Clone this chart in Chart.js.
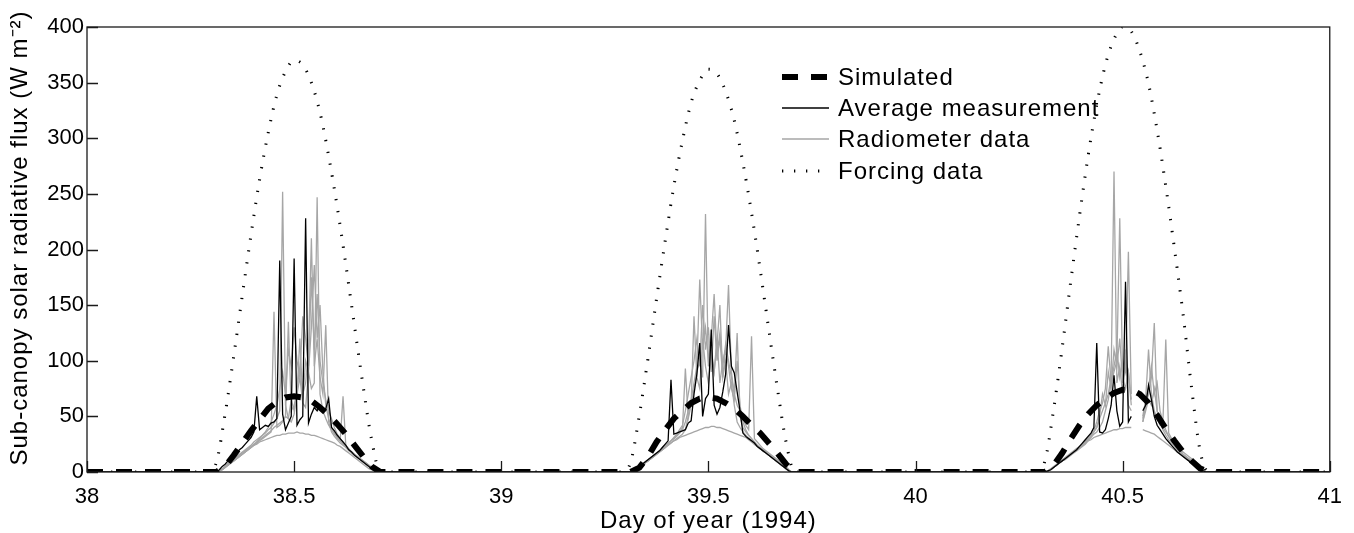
<!DOCTYPE html>
<html>
<head>
<meta charset="utf-8">
<script src="https://cdn.jsdelivr.net/npm/chart.js@4.4.0/dist/chart.umd.min.js"></script>
<style>
  html, body { margin: 0; padding: 0; background: #ffffff; }
  #wrap { width: 1354px; height: 533px; position: relative; }
</style>
</head>
<body>
<div id="wrap"><canvas id="c" width="1354" height="533"></canvas></div>
<script>
// ---------------- DATA ----------------
const days = [38, 39, 40];
const xTickValues = [38, 38.5, 39, 39.5, 40, 40.5, 41];
const yTickValues = [0, 50, 100, 150, 200, 250, 300, 350, 400];
const legendLabels = ['Simulated', 'Average measurement', 'Radiometer data', 'Forcing data'];
const xTitle = 'Day of year (1994)';
const yTitle = 'Sub-canopy solar radiative flux (W m\u207B\u00B2)';

// half-hourly samples 07:00 .. 17:00 (21 per day)
const simulated = [
  0,0,5,15,26,37,47,57,63,67,68,67,64,58,51,43,34,24,14,5,0,
  0,0,4,14,27,38,48,55,62,66,67,66,62,57,50,42,35,26,17,7,0,
  0,0,6,17,30,42,52,60,66,71,74,74,70,62,51,39,28,18,10,3,0
];
const forcing = [
  0,9,52,104,159,213,263,305,339,360,370,366,350,323,284,238,186,131,77,28,0,
  0,9,51,102,156,208,257,298,332,352,362,358,342,316,278,233,182,128,75,27,0,
  0,10,56,112,172,230,284,330,366,389,400,396,378,349,307,257,201,142,75,18,0
];

// 10-minute samples 07:30 .. 17:00 (58 per day)
const averageMeasurement = [
  0,2,5,7,10,12,15,17,20,22,25,28,31,36,68,38,40,42,41,44,45,48,190,52,38,44,50,192,42,47,50,228,44,52,58,55,60,54,57,66,40,37,33,30,27,24,20,18,15,13,11,9,7,5,3,1,0,0,
  0,1,3,5,7,9,11,13,15,17,19,22,25,28,83,34,35,36,37,38,44,46,70,88,116,50,66,70,128,60,52,58,72,88,132,95,89,72,55,35,32,30,28,26,23,21,19,17,15,13,11,9,7,5,3,1,0,0,
  0,1,2,4,6,8,10,12,14,16,18,20,23,26,29,32,35,40,116,36,35,38,48,60,87,55,41,45,171,45,50,null,null,null,55,60,78,65,50,42,38,34,30,27,24,21,18,16,14,12,10,8,6,4,2,1,0,0
];
const radiometer1 = [
  0,1,3,5,8,10,12,14,16,18,20,22,24,27,29,31,33,35,38,40,44,48,55,252,60,48,45,52,70,85,62,58,90,75,80,247,70,55,48,42,38,34,31,28,68,22,20,17,15,13,11,9,7,5,3,1,0,0,
  0,1,3,5,7,9,11,13,15,17,19,21,23,25,28,30,32,35,38,45,55,60,75,90,100,85,232,95,110,90,120,80,100,110,168,90,70,60,55,48,42,38,122,30,27,24,21,19,17,15,13,11,9,7,5,2,0,0,
  0,1,2,4,6,8,10,12,14,16,18,20,22,24,27,30,33,36,40,48,55,62,70,85,270,80,95,70,110,60,55,null,null,null,45,60,70,85,134,55,45,38,33,29,26,23,20,17,15,13,11,9,7,5,3,1,0,0
];
const radiometer2 = [
  0,1,2,4,6,8,10,12,14,16,18,20,22,24,26,28,30,32,34,36,144,40,42,45,50,48,65,55,75,95,70,80,110,210,95,120,85,70,132,45,36,32,29,26,24,22,19,17,15,13,11,9,7,5,3,1,0,0,
  0,1,2,4,6,8,10,12,14,16,18,20,22,24,26,28,30,32,34,38,50,65,80,95,173,110,130,100,120,160,105,125,95,115,100,85,70,125,50,40,36,33,30,27,24,22,20,18,16,14,12,10,8,6,3,1,0,0,
  0,1,2,4,6,8,10,11,13,15,17,19,21,23,25,28,31,34,36,40,45,55,65,80,90,100,228,85,75,90,65,null,null,null,50,65,110,70,55,48,42,45,119,35,30,26,23,20,18,16,14,12,10,8,6,3,0,0
];
const radiometer3 = [
  0,1,3,5,7,9,11,13,15,17,19,21,23,25,27,29,31,33,35,37,40,42,44,46,50,135,55,60,70,120,65,100,90,130,186,120,150,90,60,48,40,35,31,28,25,23,20,18,16,14,12,10,8,6,4,2,0,0,
  0,1,3,5,7,9,11,13,15,17,19,22,24,26,28,30,33,36,40,93,48,60,140,85,75,120,95,80,105,90,115,150,85,100,70,80,60,45,40,36,33,30,28,25,23,21,19,17,15,13,11,9,7,5,3,1,0,0,
  0,1,3,5,7,9,11,13,15,17,19,21,23,25,28,31,34,37,45,55,62,75,113,80,95,110,85,100,90,198,70,null,null,null,45,55,65,60,75,55,45,40,36,32,28,25,22,19,16,14,12,10,8,6,4,2,0,0
];
const radiometer4 = [
  0,1,2,4,6,8,10,12,14,16,18,20,22,24,25,27,28,29,30,31,32,33,33,34,34,35,35,35,36,35,35,34,34,33,33,32,31,30,29,28,27,26,24,23,21,19,17,15,13,11,9,7,5,3,2,1,0,0,
  0,1,2,4,6,8,10,12,14,16,18,20,22,24,26,28,29,31,32,33,34,35,36,37,38,39,40,40,41,41,40,40,39,38,37,36,35,34,33,32,31,29,27,25,23,21,19,17,15,13,11,9,7,5,3,1,0,0,
  0,1,2,4,6,8,10,12,14,16,18,20,22,24,26,28,29,31,32,33,34,35,36,37,38,38,39,39,40,40,40,null,null,null,38,37,36,35,34,32,30,28,26,24,22,20,18,16,14,12,10,8,6,4,2,1,0,0
];
const radiometer5 = [
  0,1,2,4,6,8,10,12,14,16,18,20,22,24,27,30,33,36,40,45,52,60,75,90,70,110,95,130,100,85,140,120,95,175,110,160,100,80,65,55,48,40,34,30,27,24,21,18,16,14,12,10,8,6,4,2,0,0,
  0,1,2,4,6,8,10,12,14,16,18,20,22,25,28,31,34,38,42,55,70,85,100,120,95,150,110,130,90,140,100,120,85,110,95,75,65,100,60,45,38,33,30,27,24,21,19,17,15,13,11,9,7,5,3,1,0,0,
  0,1,2,4,6,8,10,12,14,16,18,20,22,24,26,29,32,36,40,50,70,60,90,75,110,95,120,80,100,90,60,null,null,null,48,60,75,95,70,80,55,45,38,32,28,25,22,19,16,14,12,10,8,6,4,2,0,0
];

// ---------------- TIME AXES ----------------
const halfHourTimes = days.flatMap(d => Array.from({length: 21}, (_, k) => d + 7/24 + k/48));
const tenMinTimes = days.flatMap(d => Array.from({length: 58}, (_, i) => d + 7.5/24 + i/144));
function toPoints(values, times) {
  const pts = [{x: 38, y: 0}];
  values.forEach((v, i) => pts.push({x: times[i], y: v}));
  pts.push({x: 41, y: 0});
  return pts;
}

const GRAY = '#a6a6a6';
const AXIS = '#1a1a1a';
const FONT = '"Liberation Sans", Arial, Helvetica, sans-serif';

const radiometers = [radiometer1, radiometer2, radiometer3, radiometer4, radiometer5];
const datasets = [
  { label: legendLabels[0], data: toPoints(simulated, halfHourTimes), borderColor: '#000', borderWidth: 6, borderDash: [16, 13], borderCapStyle: 'butt', order: 0 },
  { label: legendLabels[3], data: toPoints(forcing, halfHourTimes), borderColor: '#000', borderWidth: 3, borderDash: [1.3, 10.7], tension: 0.35, cubicInterpolationMode: 'monotone', order: 1 },
  { label: legendLabels[1], data: toPoints(averageMeasurement, tenMinTimes), borderColor: '#000', borderWidth: 1.3, order: 2 }
];
radiometers.forEach((r, k) => datasets.push({ label: legendLabels[2] + ' ' + (k + 1), data: toPoints(r, tenMinTimes), borderColor: GRAY, borderWidth: 1.3, order: 3 }));
datasets.forEach(d => { d.pointRadius = 0; d.fill = false; d.spanGaps = false; if (d.tension === undefined) d.tension = 0; });

// ---------------- PLUGIN: frame, inward ticks, titles, legend ----------------
const framePlugin = {
  id: 'frame',
  afterDatasetsDraw(chart) {
    const ctx = chart.ctx;
    const a = chart.chartArea;
    const xs = chart.scales.x, ys = chart.scales.y;
    ctx.save();
    ctx.strokeStyle = AXIS;
    ctx.lineWidth = 1.3;
    ctx.strokeRect(a.left, a.top, a.right - a.left, a.bottom - a.top);
    const TL = 11;
    ctx.beginPath();
    xTickValues.forEach(v => {
      const px = Math.round(xs.getPixelForValue(v)) + 0.5;
      ctx.moveTo(px, a.bottom); ctx.lineTo(px, a.bottom - TL);
    });
    yTickValues.forEach(v => {
      const py = Math.round(ys.getPixelForValue(v)) + 0.5;
      ctx.moveTo(a.left, py); ctx.lineTo(a.left + TL, py);
    });
    ctx.stroke();

    ctx.font = '24px ' + FONT;
    ctx.fillStyle = '#000';
    try { ctx.letterSpacing = '1px'; } catch (e) {}

    // axis titles
    ctx.textAlign = 'center';
    ctx.textBaseline = 'middle';
    ctx.fillText(xTitle, (a.left + a.right) / 2, 521);
    ctx.save();
    ctx.translate(20, 238);
    ctx.rotate(-Math.PI / 2);
    ctx.fillText(yTitle, 0, 0);
    ctx.restore();

    // legend
    const lx0 = 782, lx1 = 829, tx = 838;
    const rows = [77, 108, 139, 171];
    const styles = [datasets[0], datasets[2], datasets[3], datasets[1]];
    ctx.textAlign = 'left';
    rows.forEach((y, i) => {
      const ds = styles[i];
      ctx.save();
      ctx.strokeStyle = ds.borderColor;
      ctx.lineWidth = ds.borderWidth;
      ctx.lineCap = 'butt';
      ctx.setLineDash(ds.borderDash || []);
      ctx.beginPath();
      ctx.moveTo(lx0, y); ctx.lineTo(lx1, y);
      ctx.stroke();
      ctx.restore();
      ctx.fillText(legendLabels[i], tx, y + 1);
    });
    ctx.restore();
  }
};

new Chart(document.getElementById('c'), {
  type: 'line',
  data: { datasets },
  options: {
    responsive: false,
    devicePixelRatio: 1,
    animation: false,
    events: [],
    layout: { padding: { left: 0, right: 23, top: 27, bottom: 0 } },
    plugins: { legend: { display: false }, tooltip: { enabled: false } },
    scales: {
      x: {
        type: 'linear', min: 38, max: 41,
        afterBuildTicks: s => { s.ticks = xTickValues.map(v => ({value: v})); },
        afterFit: s => { s.height = 61; },
        grid: { display: false, drawTicks: false },
        border: { display: false },
        ticks: { color: '#000', font: { family: FONT, size: 22 }, padding: 12, maxRotation: 0, autoSkip: false,
                 callback: v => String(v) },
        title: { display: false }
      },
      y: {
        type: 'linear', min: 0, max: 400,
        afterBuildTicks: s => { s.ticks = yTickValues.map(v => ({value: v})); },
        afterFit: s => { s.width = 87; },
        grid: { display: false, drawTicks: false },
        border: { display: false },
        ticks: { color: '#000', font: { family: FONT, size: 22 }, padding: 3, autoSkip: false,
                 callback: v => String(v) },
        title: { display: false }
      }
    }
  },
  plugins: [framePlugin]
});
</script>
</body>
</html>
